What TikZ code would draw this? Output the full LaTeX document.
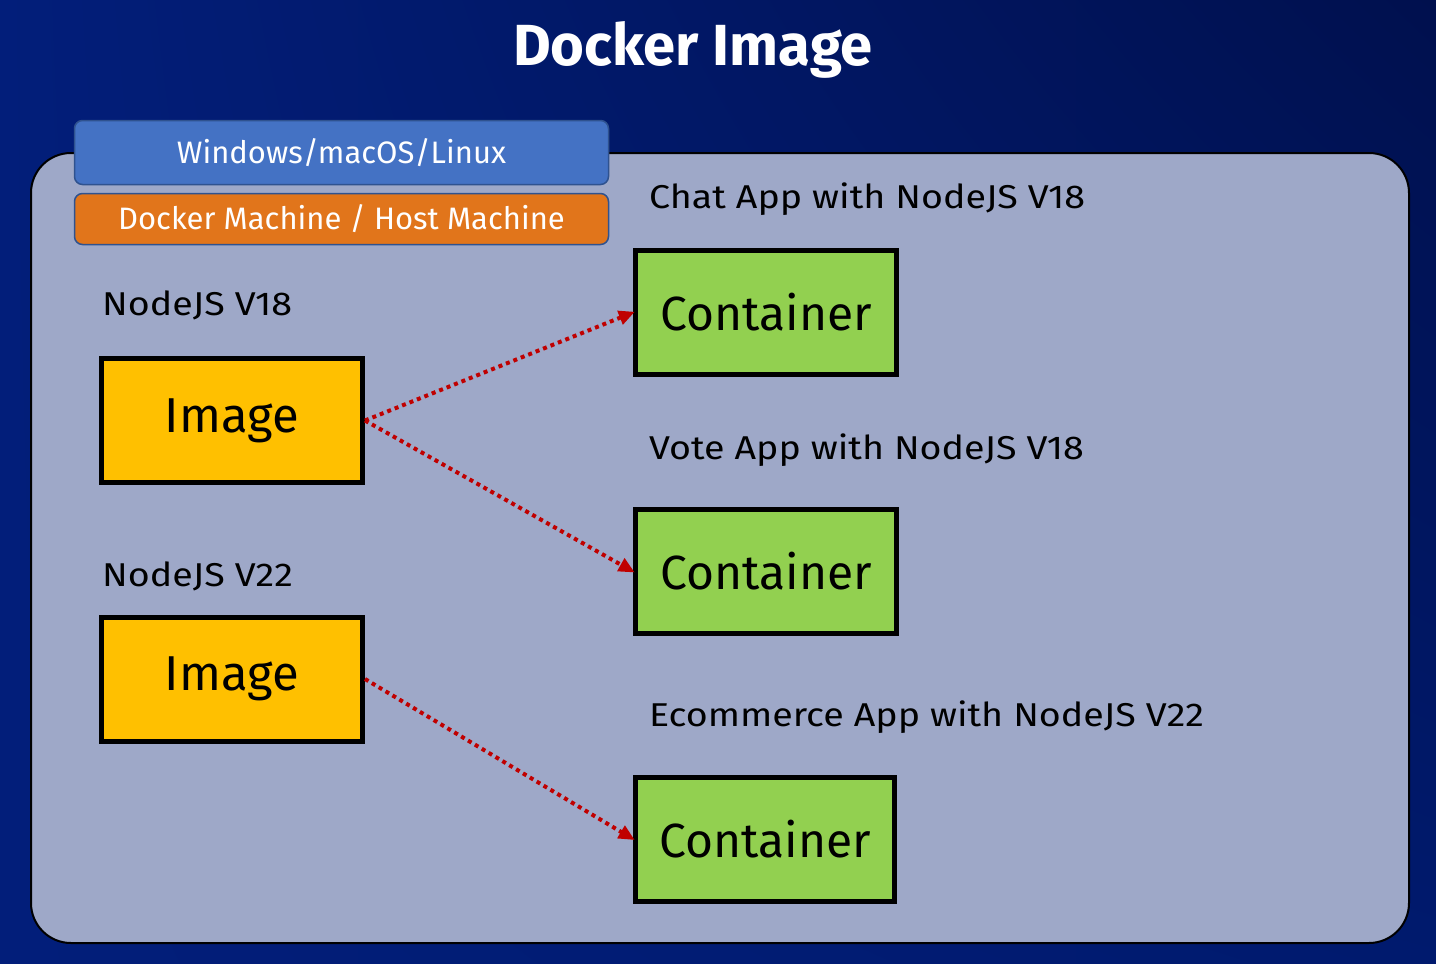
\documentclass[tikz,border=0pt]{standalone}
\usepackage{fontspec}
\setmainfont{Fira Sans}
\newfontfamily\widefont[FakeStretch=1.14]{Fira Sans}
\usetikzlibrary{arrows.meta, shadings}
\definecolor{bgleft}{RGB}{2,30,122}
\definecolor{bgright}{RGB}{0,16,78}
\definecolor{bglowright}{RGB}{0,26,110}
\definecolor{panelfill}{RGB}{158,168,200}
\definecolor{osblue}{RGB}{68,114,196}
\definecolor{osedge}{RGB}{47,82,143}
\definecolor{hostorange}{RGB}{225,117,27}
\definecolor{imagefill}{RGB}{255,192,0}
\definecolor{containerfill}{RGB}{146,208,80}
\definecolor{linkred}{RGB}{192,0,0}
\tikzset{
	layerbox/.style={draw=osedge, line width=1.5pt, rounded corners=8pt, minimum width=534pt, text=white, font=\fontsize{31}{36}\selectfont, inner sep=0pt},
	imagebox/.style={draw=black, line width=5pt, fill=imagefill, minimum width=261pt, minimum height=124pt, font=\fontsize{49}{56}\selectfont, inner sep=0pt},
	containerbox/.style={draw=black, line width=5pt, fill=containerfill, minimum width=261pt, minimum height=124pt, font=\fontsize{48}{56}\selectfont, inner sep=0pt},
	caption/.style={anchor=west, inner sep=0pt, font=\widefont\fontsize{33}{38}\selectfont},
	link/.style={draw=linkred, line width=4pt, dash pattern=on 4pt off 4pt, -{Triangle[length=16pt, width=14pt]}, shorten >=-2pt}
}
\begin{document}
\begin{tikzpicture}[x=1pt, y=-1pt]
		\useasboundingbox (0,0) rectangle (1436,964);
		\shade[upper left=bgleft, upper right=bgright, lower left=bgleft, lower right=bglowright] (0,0) rectangle (1436,964);
		\draw[black, line width=2pt, fill=panelfill, rounded corners=40pt] (31,153) rectangle (1409,943);
		\node[text=white, font=\bfseries\fontsize{58}{66}\selectfont, inner sep=0pt] (title) at (693,50) {Docker Image};
		\node[layerbox, fill=osblue, minimum height=64pt] (os) at (341.5,152.5) {Windows/macOS/Linux};
		\node[layerbox, fill=hostorange, minimum height=51pt] (host) at (341.5,219) {Docker Machine / Host Machine};
		\node[caption] (v18) at (102,305) {NodeJS V18};
		\node[caption] (v22) at (102,576) {NodeJS V22};
		\node[imagebox] (img1) at (232,420.5) {Image};
		\node[imagebox] (img2) at (232,679) {Image};
		\node[caption] (chat) at (649,199) {Chat App with NodeJS V18};
		\node[caption] (vote) at (649,450) {Vote App with NodeJS V18};
		\node[caption] (shop) at (649,717) {Ecommerce App with NodeJS V22};
		\node[containerbox] (c1) at (766,312.5) {Container};
		\node[containerbox] (c2) at (766,571.5) {Container};
		\node[containerbox, minimum width=259pt] (c3) at (765,839) {Container};
                \draw[link] (img1.east) -- (c1.west);
                \draw[link] (img1.east) -- (c2.west);
                \draw[link] (img2.east) -- (c3.west);
		\end{tikzpicture}
\end{document}
